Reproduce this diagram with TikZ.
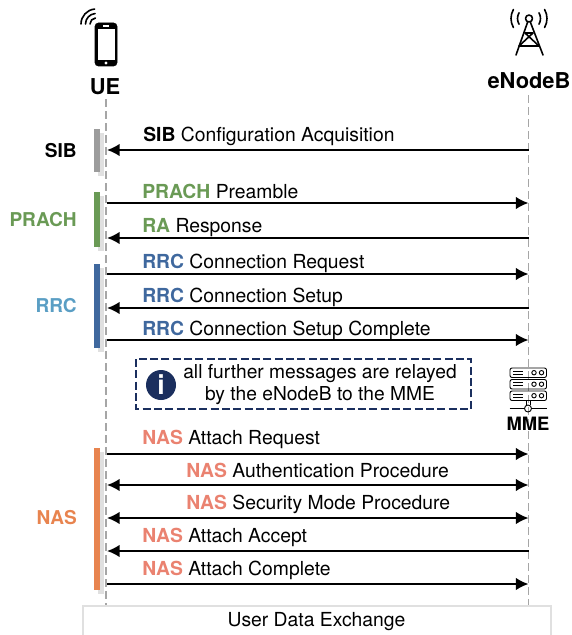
\documentclass[tikz,border=0pt]{standalone}
\usepackage{fontspec}
\setmainfont{TeX Gyre Heros}
\usetikzlibrary{arrows.meta}
\definecolor{sibgray}{HTML}{9C9C9C}
\definecolor{prachgreen}{HTML}{6A9A55}
\definecolor{rrcblue}{HTML}{3F689E}
\definecolor{rrclight}{HTML}{5A9EC4}
\definecolor{nasorange}{HTML}{E8844F}
\definecolor{nassalmon}{HTML}{EA8270}
\definecolor{infonavy}{HTML}{1B2F5E}
\newcommand{\msgfont}{\fontsize{14.5}{17}\selectfont}
\newcommand{\headfont}{\fontsize{16.4}{19}\selectfont\bfseries}
\tikzset{
  msg/.style={line width=1.5pt,draw=black,arrows={Latex[length=9.5pt,width=9.5pt]-Latex[length=9.5pt,width=9.5pt]}},
  msgr/.style={line width=1.5pt,draw=black,arrows={-Latex[length=9.5pt,width=9.5pt]}},
  msgl/.style={line width=1.5pt,draw=black,arrows={Latex[length=9.5pt,width=9.5pt]-}},
  lifeline/.style={line width=1.4pt,draw=black!35,dash pattern=on 6pt off 3pt},
  msglabel/.style={anchor=west,inner sep=0pt,font=\msgfont,text height=10pt,text depth=0pt},
  sidelabel/.style={anchor=east,inner sep=0pt,font=\fontsize{14.3}{17}\selectfont\bfseries},
  icon/.style={line width=1.2pt,line cap=round,line join=round},
}
\begin{document}
\begin{tikzpicture}[x=0.75pt,y=-0.75pt]
\useasboundingbox (0,0) rectangle (571,635);

% lifelines
\coordinate (ut) at (106,99);
\coordinate (ub) at (106,605);
\coordinate (et) at (528.5,95);
\coordinate (eb) at (528.5,605);
\draw [lifeline] (ut) -- (ub);
\draw [lifeline] (et) -- (eb);

\node [font=\headfont,inner sep=0pt] (ue) at (105,87) {UE};
\node [font=\headfont,inner sep=0pt] (enb) at (529,81) {eNodeB};

% phone
\begin{scope}
    \filldraw [black,rounded corners=2.5pt] (95,23) rectangle (117,66);
    \fill [white] (97.5,29) rectangle (114.5,60);
    \fill [white] (106,63) circle (1.6);
    \fill [white] (103,25.4) rectangle (109,26.6);
    \draw [icon] (96,24) ++(180:6) arc (180:265:6);
    \draw [icon] (96,24) ++(180:10.5) arc (180:265:10.5);
    \draw [icon] (96,24) ++(180:15) arc (180:265:15);
\end{scope}

% tower
\begin{scope}[icon]
    \draw (529,18.5) circle (3.5);
    \draw (527.5,22.5) -- (516,55) (530.5,22.5) -- (543,55);
    \draw (525,33) -- (533,33) (525,33) -- (539,46) (533,33) -- (519,46) (519,46) -- (539,46);
    \foreach \r in {11.5,18}{
        \draw (529,18.5) ++(150:\r) arc (150:210:\r);
        \draw (529,18.5) ++(30:\r) arc (30:-30:\r);
    }
\end{scope}

% side bars
\fill [black!12] (98,133) rectangle (104,176);
\fill [black!12] (98,196) rectangle (104,251);
\fill [black!12] (98,268) rectangle (104,352);
\fill [black!12] (98,452) rectangle (104,594);
\fill [sibgray] (94,129) rectangle (100,172);
\fill [prachgreen] (94,192) rectangle (100,247);
\fill [rrcblue] (94,264) rectangle (100,348);
\fill [nasorange] (94,448) rectangle (100,590);

\node [sidelabel] (sib) at (77,151) {SIB};
\node [sidelabel,text=prachgreen] (prach) at (77,220) {PRACH};
\node [sidelabel,text=rrclight] (rrc) at (77,306) {RRC};
\node [sidelabel,text=nasorange] (nas) at (77,518) {NAS};

% UE and eNodeB ends of the messages
\foreach \i/\y in {1/150,2/203,3/238,4/274,5/308,6/340,7/454,8/485,9/518,10/551,11/584}{
    \coordinate (u\i) at (107,\y);
    \coordinate (e\i) at (528.5,\y);
}

\draw [msgl] (u1) -- (e1);
\draw [msgr] (u2) -- (e2);
\draw [msgl] (u3) -- (e3);
\draw [msgr] (u4) -- (e4);
\draw [msgl] (u5) -- (e5);
\draw [msgr] (u6) -- (e6);
\draw [msgr] (u7) -- (e7);
\draw [msg] (u8) -- (e8);
\draw [msg] (u9) -- (e9);
\draw [msgl] (u10) -- (e10);
\draw [msgr] (u11) -- (e11);

\node [msglabel] (m1) at (143,135) {\textbf{SIB} Configuration Acquisition};
\node [msglabel] (m2) at (142,192) {\textcolor{prachgreen}{\textbf{PRACH}} Preamble};
\node [msglabel] (m3) at (142,226) {\textcolor{prachgreen}{\textbf{RA}} Response};
\node [msglabel] (m4) at (142,262) {\textcolor{rrcblue}{\textbf{RRC}} Connection Request};
\node [msglabel] (m5) at (142,296) {\textcolor{rrcblue}{\textbf{RRC}} Connection Setup};
\node [msglabel] (m6) at (142,329) {\textcolor{rrcblue}{\textbf{RRC}} Connection Setup Complete};
\node [msglabel] (m7) at (142,438) {\textcolor{nassalmon}{\textbf{NAS}} Attach Request};
\node [msglabel] (m8) at (186,471) {\textcolor{nassalmon}{\textbf{NAS}} Authentication Procedure};
\node [msglabel] (m9) at (186,503) {\textcolor{nassalmon}{\textbf{NAS}} Security Mode Procedure};
\node [msglabel] (m10) at (142,536) {\textcolor{nassalmon}{\textbf{NAS}} Attach Accept};
\node [msglabel] (m11) at (142,569) {\textcolor{nassalmon}{\textbf{NAS}} Attach Complete};

% relay note
\draw [infonavy,line width=1pt,dash pattern=on 6pt off 2.5pt] (136,359) rectangle (471,409);
\node [circle,fill=infonavy,text=white,inner sep=0pt,minimum size=22.5pt,font=\fontsize{20}{20}\selectfont\bfseries] (info) at (161,385) {i};
\node [align=center,inner sep=0pt,font=\fontsize{14.4}{16}\selectfont] (note) at (320,384.5) {all further messages are relayed\\by the eNodeB to the MME};

% server
\begin{scope}[line width=0.7pt,line join=round]
    \foreach \y in {368,379.5,391}{
        \draw [rounded corners=1.5pt] (510,\y) rectangle (546.5,\y+9.5);
        \draw (513,\y+3.2) -- (523,\y+3.2) (513,\y+6.2) -- (523,\y+6.2);
        \draw (534,\y+4.7) circle (2.2) (541.5,\y+4.7) circle (2.2);
    }
    \draw (526,400.5) -- (526,405) (530,400.5) -- (530,405);
    \draw [line width=1.2pt] (509.5,408.5) -- (524.5,408.5) (531.5,408.5) -- (546.5,408.5);
    \draw (528,408.5) circle (3.5);
\end{scope}
\node [font=\fontsize{13.8}{15}\selectfont\bfseries,inner sep=0pt] (mme) at (528,424) {MME};

% user data
\node [draw=black!12,line width=1.5pt,fill=white,minimum width=351pt,minimum height=24pt,inner sep=0pt,font=\msgfont] (data) at (316.5,622) {User Data Exchange};
\end{tikzpicture}
\end{document}
